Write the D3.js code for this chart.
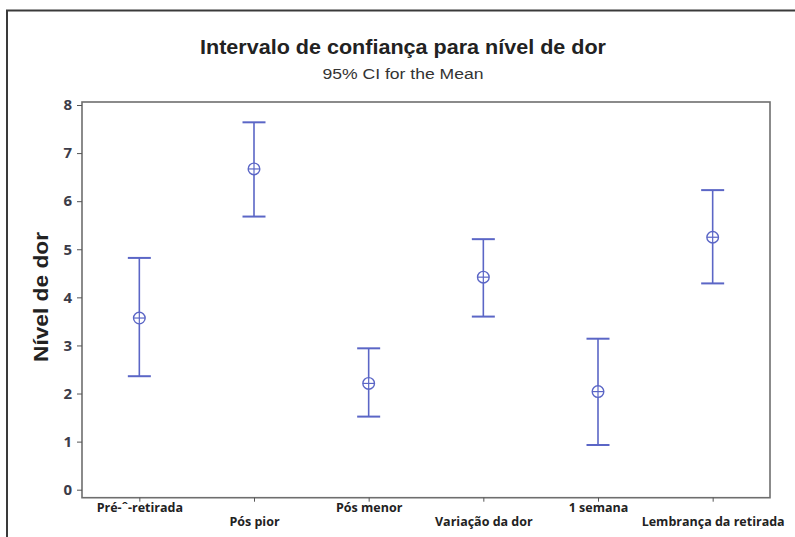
<!DOCTYPE html>
<html><head><meta charset="utf-8">
<script src="https://cdn.jsdelivr.net/npm/d3@7"></script>
<style>body{margin:0;background:#fff}svg{display:block}</style>
</head><body>
<svg id="c" width="795" height="537"></svg>
<script>
const categories = ["Pré-ˆ-retirada","Pós pior","Pós menor","Variação da dor","1 semana","Lembrança da retirada"];
const means = [3.57, 6.67, 2.21, 4.42, 2.04, 5.25];
const lower = [2.36, 5.68, 1.52, 3.60, 0.93, 4.29];
const upper = [4.82, 7.64, 2.94, 5.21, 3.14, 6.23];
const yTicks = [0,1,2,3,4,5,6,7,8];

const svg = d3.select("#c");
const L = 82, R = 770, T = 102, B = 497.7;
const col = "#5b66c6";

// outer border
svg.append("rect").attr("x",7).attr("y",10.5).attr("width",800).attr("height",540)
  .attr("fill","none").attr("stroke","#3a3a3a").attr("stroke-width",2);

const x = d3.scalePoint().domain(categories).range([L,R]).padding(0.5);
const y = d3.scaleLinear().domain([0,8]).range([489.7,105]);

// frame
svg.append("rect").attr("x",L).attr("y",T).attr("width",R-L).attr("height",B-T)
  .attr("fill","none").attr("stroke","#6e6e6e").attr("stroke-width",1.6);

// y axis
const ya = svg.append("g").attr("transform",`translate(${L},0)`)
  .call(d3.axisLeft(y).tickValues(yTicks).tickSize(5).tickPadding(5).tickFormat(d3.format("d")));
ya.select(".domain").remove();
ya.selectAll("line").attr("stroke","#555");
ya.selectAll("text").attr("font-family","'Open Sans', Lato, sans-serif").attr("font-weight","bold")
  .attr("font-size",15).attr("fill","#3c3c48");

// x axis
const xa = svg.append("g").attr("transform",`translate(0,${B})`)
  .call(d3.axisBottom(x).tickSize(4).tickPadding(4));
xa.select(".domain").remove();
xa.selectAll("line").attr("stroke","#555");
xa.selectAll("text").attr("font-family","'Open Sans', Lato, sans-serif").attr("font-weight","bold")
  .attr("font-size",12.5).attr("fill","#222")
  .attr("y",(d,i)=> i%2===0 ? 10 : 24).attr("dy","0.32em");

// error bars
const g = svg.append("g").attr("stroke",col).attr("fill","none").attr("stroke-width",1.6);
categories.forEach((c,i)=>{
  const cx = x(c);
  g.append("line").attr("x1",cx).attr("x2",cx).attr("y1",y(upper[i])).attr("y2",y(lower[i]));
  g.append("line").attr("x1",cx-11.5).attr("x2",cx+11.5).attr("y1",y(upper[i])).attr("y2",y(upper[i])).attr("stroke-width",2);
  g.append("line").attr("x1",cx-11.5).attr("x2",cx+11.5).attr("y1",y(lower[i])).attr("y2",y(lower[i])).attr("stroke-width",2);
  g.append("circle").attr("cx",cx).attr("cy",y(means[i])).attr("r",5.8).attr("fill","#fff").attr("stroke-width",1.4);
  g.append("line").attr("x1",cx-5.8).attr("x2",cx+5.8).attr("y1",y(means[i])).attr("y2",y(means[i])).attr("stroke-width",1.2);
  g.append("line").attr("x1",cx).attr("x2",cx).attr("y1",y(means[i])-5.8).attr("y2",y(means[i])+5.8).attr("stroke-width",1.2);
});

// titles
svg.append("text").attr("x",403).attr("y",54).attr("text-anchor","middle")
  .attr("font-family","'Liberation Sans', Arial, sans-serif").attr("font-weight","bold").attr("font-size",20).attr("fill","#222")
  .attr("textLength",406).attr("lengthAdjust","spacingAndGlyphs")
  .text("Intervalo de confiança para nível de dor");
svg.append("text").attr("x",403).attr("y",79).attr("text-anchor","middle")
  .attr("font-family","'Liberation Sans', Arial, sans-serif").attr("font-size",15.5).attr("fill","#333")
  .attr("textLength",161).attr("lengthAdjust","spacingAndGlyphs")
  .text("95% CI for the Mean");
svg.append("text").attr("transform","translate(48,297) rotate(-90)").attr("text-anchor","middle")
  .attr("font-family","'Liberation Sans', Arial, sans-serif").attr("font-weight","bold").attr("font-size",21).attr("fill","#222")
  .attr("textLength",130).attr("lengthAdjust","spacingAndGlyphs")
  .text("Nível de dor");
</script>
</body></html>
